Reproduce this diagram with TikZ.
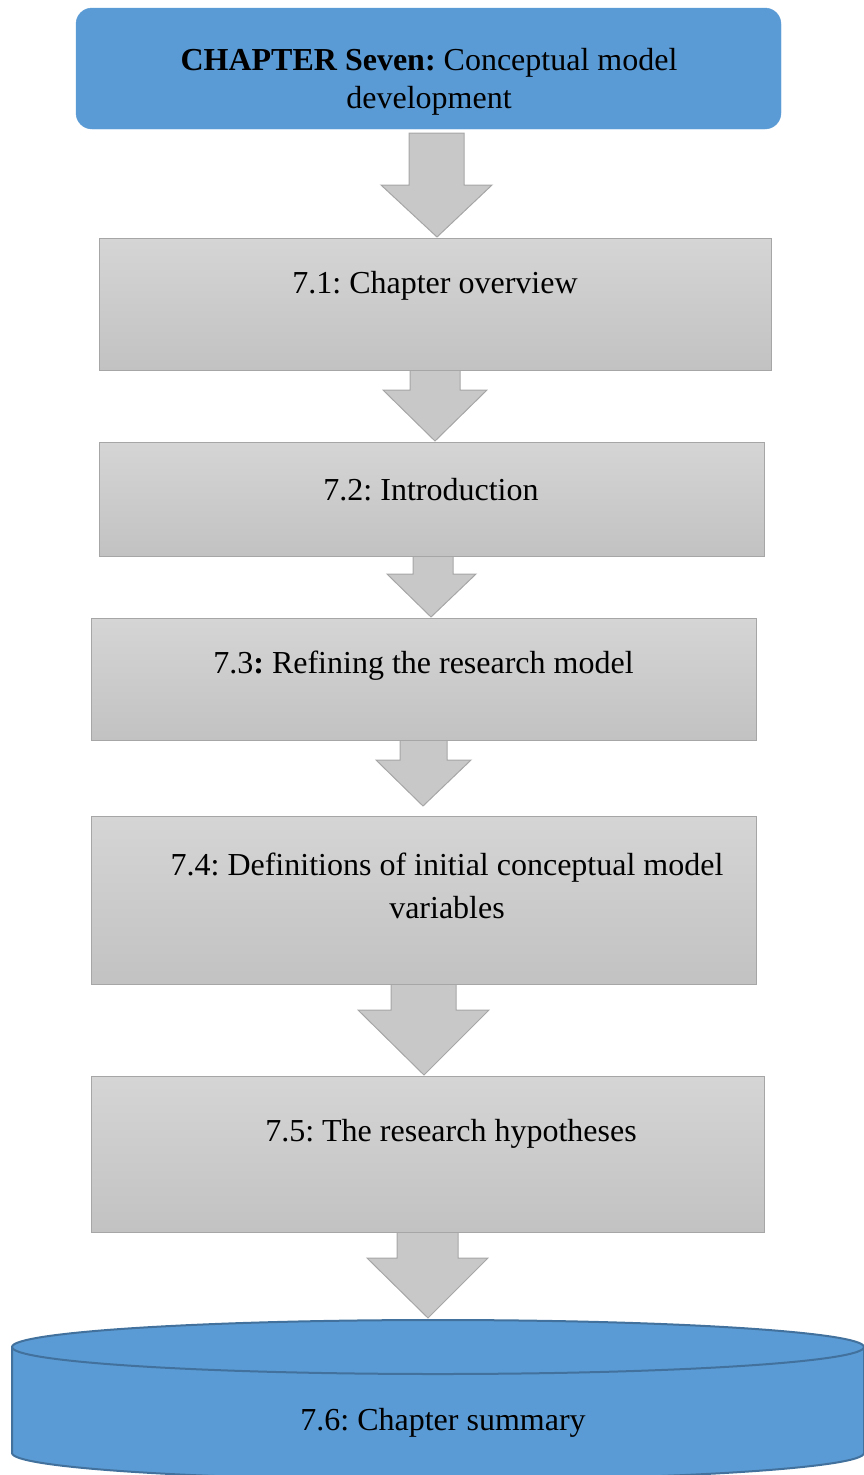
\documentclass[tikz,border=0pt]{standalone}
\usepackage{fontspec}
\setmainfont{Liberation Serif}
\frenchspacing
\definecolor{blueF}{HTML}{5B9BD5}
\definecolor{blueD}{HTML}{41719C}
\definecolor{grayT}{HTML}{D5D5D5}
\definecolor{grayB}{HTML}{C2C2C2}
\definecolor{grayL}{HTML}{A6A6A6}
\definecolor{grayA}{HTML}{C8C8C8}
\tikzset{
  graybox/.style={draw=grayL, line width=1pt, top color=grayT, bottom color=grayB},
  bluebox/.style={fill=blueF, draw=blueF, rounded corners=16pt},
  blockarr/.style={fill=grayA, draw=grayL, line width=1pt, line join=miter},
  lbl/.style={font=\fontsize{32}{38}\selectfont, align=center, inner sep=0pt},
  cyl/.style={fill=blueF, draw=blueD, line width=2pt}
}
\newcommand{\blockarrow}[8]{%
  \path[blockarr] (#1,#3) -- (#2,#3) -- (#2,#4) -- (#6,#4) -- (#7,#8) -- (#5,#4) -- (#1,#4) -- cycle;}
\begin{document}
\begin{tikzpicture}[x=1pt,y=-1pt]
\useasboundingbox (0,0) rectangle (864,1475);
% top box
\path[bluebox] (76,8) rectangle (781,129);
\node[lbl] (t0) at (429,82) {\textbf{CHAPTER Seven:} Conceptual model\\development};
% arrows
\blockarrow{409}{464}{133}{185}{381}{492}{437}{237}
\blockarrow{410}{460}{370}{390}{383}{487}{435}{441}
\blockarrow{413}{453}{556}{574}{387}{476}{431}{617}
\blockarrow{400}{447}{740}{760}{376}{471}{423}{806}
\blockarrow{391}{456}{984}{1010}{358}{489}{424}{1075}
\blockarrow{397}{458}{1232}{1258}{367}{488}{428}{1318}
% gray boxes
\path[graybox] (99,238) rectangle (771,370);
\node[lbl] (t1) at (435,286) {7.1: Chapter overview};
\path[graybox] (99,442) rectangle (764,556);
\node[lbl] (t2) at (431,490) {7.2: Introduction};
\path[graybox] (91,618) rectangle (756,740);
\node[lbl] (t3) at (423.5,666) {7.3\textbf{:} Refining the research model};
\path[graybox] (91,816) rectangle (756,984);
\node[lbl, font=\fontsize{32}{43}\selectfont] (t4) at (447,885.5) {7.4: Definitions of initial conceptual model\\variables};
\path[graybox] (91,1076) rectangle (764,1232);
\node[lbl] (t5) at (451,1134) {7.5: The research hypotheses};
% cylinder
\path[cyl] (12,1347) -- (12,1453) arc[start angle=180, end angle=0, x radius=426, y radius=27] -- (864,1347) arc[start angle=0, end angle=-180, x radius=426, y radius=27] -- cycle;
\draw[blueD, line width=2pt] (12,1347) arc[start angle=180, end angle=0, x radius=426, y radius=27];
\node[lbl] (t6) at (443,1423) {7.6: Chapter summary};
\end{tikzpicture}
\end{document}
